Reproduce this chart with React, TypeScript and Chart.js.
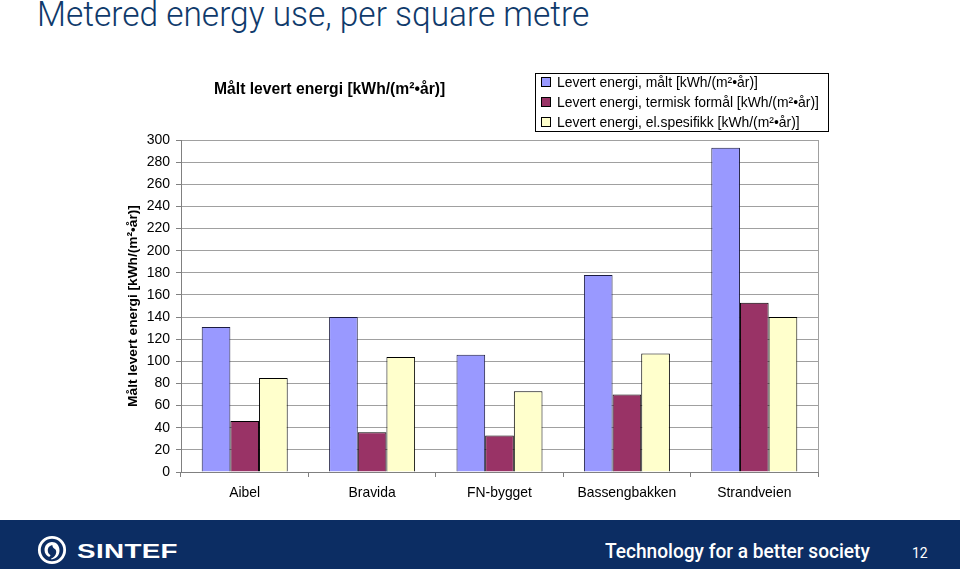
import React, { useEffect, useRef } from "react";
import { Chart, registerables } from "chart.js";

Chart.register(...registerables);

const categories = ["Aibel", "Bravida", "FN-bygget", "Bassengbakken", "Strandveien"];
const maltValues = [131, 140, 106, 178, 293];
const termiskValues = [46, 36, 33, 70, 153];
const elspesValues = [85, 104, 73, 107, 140];
const seriesLabels = [
  "Levert energi, målt [kWh/(m²•år)]",
  "Levert energi, termisk formål [kWh/(m²•år)]",
  "Levert energi, el.spesifikk [kWh/(m²•år)]",
];
const seriesColors = ["#9999FF", "#993366", "#FFFFCC"];
const yTicks = [0, 20, 40, 60, 80, 100, 120, 140, 160, 180, 200, 220, 240, 260, 280, 300];
const chartTitle = "Målt levert energi [kWh/(m²•år)]";
const yAxisTitle = "Målt levert energi [kWh/(m²•år)]";
const pageTitle = "Metered energy use, per square metre";
const footerText = "Technology for a better society";
const pageNumber = "12";

const FONT = 'Arial, "Liberation Sans", sans-serif';

const extrasPlugin = {
  id: "extras",
  beforeDatasetsDraw(chart: any) {
    const { ctx, chartArea: ca } = chart;
    ctx.save();
    ctx.strokeStyle = "#a0a0a0";
    ctx.lineWidth = 1;
    ctx.beginPath();
    ctx.moveTo(Math.round(ca.right) + 0.5, ca.top);
    ctx.lineTo(Math.round(ca.right) + 0.5, ca.bottom);
    ctx.stroke();
    ctx.restore();
  },
  afterDraw(chart: any) {
    const { ctx, chartArea: ca } = chart;
    ctx.save();
    // chart title
    ctx.font = `bold 15.7px ${FONT}`;
    ctx.fillStyle = "#000";
    ctx.textBaseline = "middle";
    ctx.textAlign = "left";
    ctx.fillText(chartTitle, ca.left + 33, 90);

    // legend box
    ctx.font = `13.9px ${FONT}`;
    const ds = chart.data.datasets;
    const maxW = Math.max(...ds.map((d: any) => ctx.measureText(d.label).width));
    const boxW = Math.round(6 + 10 + 7 + maxW + 8);
    const right = Math.round(ca.right) + 10;
    const left = right - boxW;
    const top = 73;
    const rowH = 20;
    const boxH = ds.length * rowH - 2;
    ctx.fillStyle = "#fff";
    ctx.fillRect(left, top, boxW, boxH);
    ctx.strokeStyle = "#000";
    ctx.lineWidth = 1;
    ctx.strokeRect(left + 0.5, top + 0.5, boxW, boxH);
    ds.forEach((d: any, i: number) => {
      const cy = top + 9 + i * rowH;
      ctx.fillStyle = d.backgroundColor;
      ctx.fillRect(left + 6.5, cy - 4.5, 9, 9);
      ctx.strokeStyle = "#000";
      ctx.strokeRect(left + 6.5, cy - 4.5, 9, 9);
      ctx.fillStyle = "#000";
      ctx.textBaseline = "middle";
      ctx.fillText(d.label, left + 22, cy + 1);
    });
    ctx.restore();
  },
};

function SintefLogo() {
  return (
    <svg width="30" height="30" viewBox="0 0 32 32" style={{ display: "block" }}>
      <circle cx="16" cy="16" r="13.5" fill="none" stroke="#fff" strokeWidth="3" />
      <path
        d="M16 7.5 C11 7.5 8 11.5 8 16 C8 20 10.5 22.5 13 23.5 L14.5 21.5 C12.5 20.5 11.5 18.5 11.5 16.5 C11.5 13.5 13.5 11 16.5 11 C16.5 13 17.5 14 19 15 C20.5 16 21 18 20 20.5 C19 23 17 24.5 15 25 L15.5 26 C20 25.5 24 22 24 16.5 C24 11 20.5 7.5 16 7.5 Z"
        fill="#fff"
      />
    </svg>
  );
}

export default function App() {
  const canvasRef = useRef<HTMLCanvasElement | null>(null);

  useEffect(() => {
    if (!canvasRef.current) return;
    const data = [maltValues, termiskValues, elspesValues];
    const chart = new Chart(canvasRef.current, {
      type: "bar",
      data: {
        labels: categories,
        datasets: data.map((vals, i) => ({
          label: seriesLabels[i],
          data: vals,
          backgroundColor: seriesColors[i],
          borderColor: i === 0 ? "#1c1c40" : "#000000",
          borderWidth: 1,
          borderSkipped: "bottom",
          categoryPercentage: 0.675,
          barPercentage: 1,
        })),
      },
      options: {
        responsive: false,
        animation: false,
        devicePixelRatio: 1,
        layout: { padding: { left: 121, right: 142, top: 140, bottom: 0 } },
        plugins: {
          legend: { display: false },
          title: { display: false },
          tooltip: { enabled: false },
        },
        scales: {
          x: {
            offset: true,
            grid: {
              offset: true,
              drawOnChartArea: false,
              drawTicks: true,
              tickLength: 5,
              color: "#808080",
            },
            border: { color: "#808080", width: 1 },
            ticks: {
              color: "#000",
              font: { family: FONT, size: 13.9 },
              padding: 8,
              maxRotation: 0,
              autoSkip: false,
            },
            afterFit: (scale: any) => {
              scale.height = 48;
            },
          },
          y: {
            min: 0,
            max: 300,
            afterBuildTicks: (scale: any) => {
              scale.ticks = yTicks.map((v) => ({ value: v }));
            },
            grid: {
              color: "#a0a0a0",
              tickLength: 5,
              tickColor: "#808080",
            },
            border: { color: "#808080", width: 1 },
            ticks: {
              color: "#000",
              font: { family: FONT, size: 14 },
              padding: 6,
            },
            title: {
              display: true,
              text: yAxisTitle,
              color: "#000",
              font: { family: FONT, size: 13.7, weight: "bold" },
              padding: { top: 4, bottom: 0 },
            },
            afterFit: (scale: any) => {
              scale.width = 60;
            },
          },
        },
      },
      plugins: [extrasPlugin],
    } as any);
    return () => chart.destroy();
  }, []);

  return (
    <div
      style={{
        position: "fixed",
        left: 0,
        top: 0,
        width: 960,
        height: 569,
        background: "#fff",
        overflow: "hidden",
      }}
    >
      <div
        style={{
          position: "absolute",
          left: 37,
          top: -6,
          fontFamily: "Roboto, 'DejaVu Sans', sans-serif",
          fontWeight: 300,
          fontSize: 35,
          color: "#0f3a6b",
          whiteSpace: "nowrap",
          transformOrigin: "left top",
          transform: "scaleX(0.955)",
        }}
      >
        {pageTitle}
      </div>
      <canvas
        ref={canvasRef}
        width={960}
        height={520}
        style={{ position: "absolute", left: 0, top: 0, width: 960, height: 520 }}
      />
      <div
        style={{
          position: "absolute",
          left: 0,
          top: 520,
          width: 960,
          height: 49,
          background: "#0c2d63",
        }}
      >
        <div style={{ position: "absolute", left: 37, top: 15 }}>
          <SintefLogo />
        </div>
        <div
          style={{
            position: "absolute",
            left: 77,
            top: 19,
            color: "#fff",
            fontFamily: "Arial, 'Liberation Sans', sans-serif",
            fontWeight: "bold",
            fontSize: 21,
            letterSpacing: 0.3,
            lineHeight: "24px",
            whiteSpace: "nowrap",
            transformOrigin: "left top",
            transform: "scaleX(1.32)",
          }}
        >
          SINTEF
        </div>
        <div
          style={{
            position: "absolute",
            left: 605,
            top: 17,
            color: "#fff",
            fontFamily: "Roboto, 'DejaVu Sans', sans-serif",
            fontWeight: 500,
            fontSize: 21,
            lineHeight: "28px",
            whiteSpace: "nowrap",
            transformOrigin: "left top",
            transform: "scaleX(0.91)",
          }}
        >
          {footerText}
        </div>
        <div
          style={{
            position: "absolute",
            left: 912,
            top: 24,
            color: "#fff",
            fontFamily: "Roboto, 'DejaVu Sans', sans-serif",
            fontSize: 14,
            lineHeight: "18px",
          }}
        >
          {pageNumber}
        </div>
      </div>
    </div>
  );
}
